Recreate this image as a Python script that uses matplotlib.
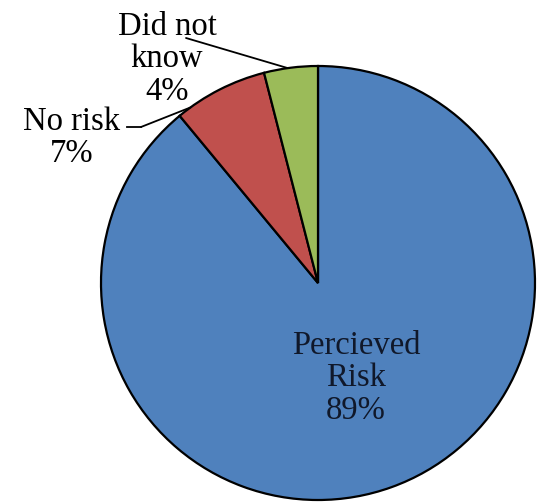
import numpy as np
import matplotlib
matplotlib.use('agg')
import matplotlib.pyplot as plt

labels = ['Percieved\nRisk', 'No risk', 'Did not\nknow']
shares = [89, 7, 4]
colors = ['#4F81BD', '#C0504D', '#9BBB59']

plt.rcParams['font.family'] = ['Liberation Serif', 'DejaVu Serif']

fig = plt.figure(figsize=(5.37, 5.04), dpi=100)
ax = fig.add_axes([0, 0, 1, 1])

cx, cy, r = 318, 221, 217
wedges, _ = ax.pie(shares, colors=colors, startangle=90, counterclock=False,
                   center=(cx, cy), radius=r,
                   wedgeprops=dict(edgecolor='black', linewidth=1.6))
ax.set_xlim(0, 537)
ax.set_ylim(0, 504)
ax.set_aspect('equal')
ax.axis('off')

def edge_point(deg_from_top):
    a = np.deg2rad(90 + deg_from_top)
    return cx + r * np.cos(a), cy + r * np.sin(a)

fs = 23.5
ls = 1.08
txt = [f'{l}\n{v}%' for l, v in zip(labels, shares)]

# inside label for the big slice
ax.text(356, 126, txt[0], ha='center', va='center', fontsize=fs,
        color='#10182a', linespacing=ls)

# outside labels with leader lines
ax.text(72, 366, txt[1], ha='center', va='center', fontsize=fs,
        linespacing=ls)
ax.plot([127, 141], [377, 377], color='black', lw=1.3)
ax.annotate('', xy=edge_point(36), xytext=(141, 377),
            arrowprops=dict(arrowstyle='-', color='black', lw=1.3,
                            shrinkA=0, shrinkB=0))

ax.text(167, 445, txt[2], ha='center', va='center', fontsize=fs,
        linespacing=ls)
ax.annotate('', xy=edge_point(8), xytext=(186, 466),
            arrowprops=dict(arrowstyle='-', color='black', lw=1.3,
                            shrinkA=0, shrinkB=0))

fig.savefig('out.png', dpi=100)
